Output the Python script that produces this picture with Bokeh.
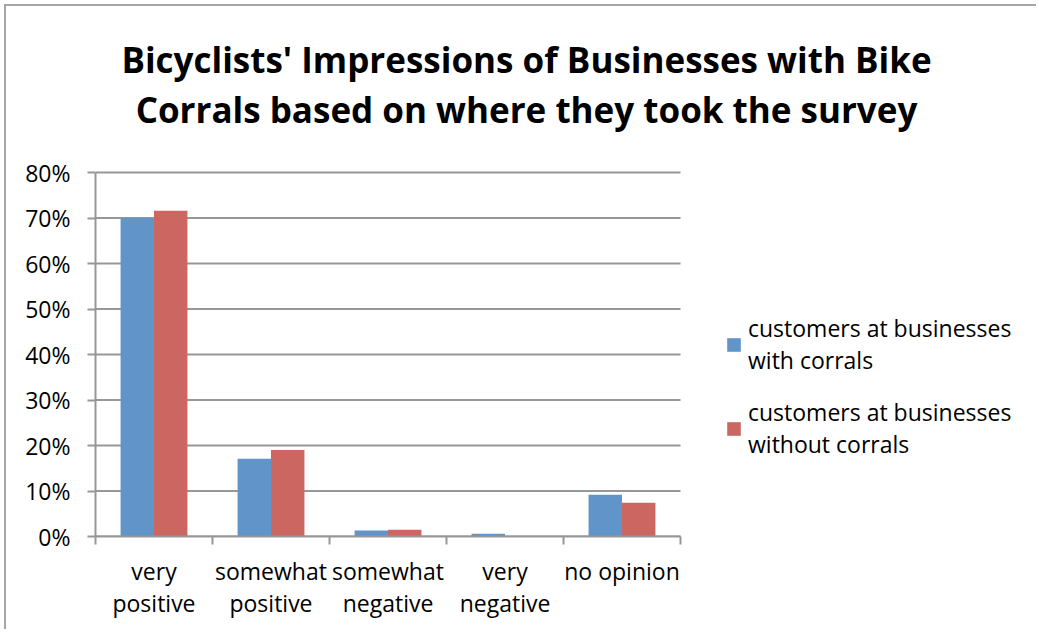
from bokeh.plotting import figure
from bokeh.models import (ColumnDataSource, FixedTicker, NumeralTickFormatter, Legend,
                          LegendItem, Label, Range1d)
from bokeh.transform import dodge
from bokeh.embed import file_html
from bokeh.resources import INLINE

# ---- data ----
categories = ["very\npositive", "somewhat\npositive", "somewhat\nnegative", "very\nnegative", "no opinion"]
with_corrals = [0.700, 0.171, 0.013, 0.006, 0.092]
without_corrals = [0.716, 0.190, 0.015, 0.0, 0.074]
series_names = ["customers at businesses\nwith corrals", "customers at businesses\nwithout corrals"]
series_colors = ["#6194C9", "#CB6660"]
y_ticks = [0.0, 0.1, 0.2, 0.3, 0.4, 0.5, 0.6, 0.7, 0.8]
title_lines = ["Bicyclists' Impressions of Businesses with Bike",
               "Corrals based on where they took the survey"]

FONT = "Open Sans"
GRAY = "#979797"

n = len(categories)
y_max = y_ticks[-1]
centers = [i + 0.5 for i in range(n)]
boundaries = [float(i) for i in range(n + 1)]
src = ColumnDataSource(dict(x=centers, a=with_corrals, b=without_corrals))
grid_src = ColumnDataSource(dict(y=y_ticks, x0=[0] * len(y_ticks), x1=[n] * len(y_ticks)))

# plot area of the bars: 585 px wide x 364 px tall; the frame is larger so that
# the title and the legend (drawn inside it) are not clipped
FW, FH = 943, 506
x_end = FW * n / 585.0
y_end = FH * y_max / 364.0

p = figure(width=1032, height=625, output_backend="svg", toolbar_location=None,
           x_range=Range1d(0, x_end), y_range=Range1d(0, y_end),
           min_border_left=89, min_border_right=0, min_border_top=24, min_border_bottom=95)
p.outline_line_color = None
p.background_fill_color = "white"
p.border_fill_color = "white"
p.styles = {"border-top": "2px solid #a6a6a6", "border-left": "2px solid #a6a6a6",
            "margin-left": "4px", "margin-top": "4px"}

# horizontal gridlines over the category span only
p.xgrid.grid_line_color = None
p.ygrid.grid_line_color = None
p.segment(x0="x0", x1="x1", y0="y", y1="y", source=grid_src, line_color=GRAY, line_width=2)

bw = 0.2857
r1 = p.vbar(x=dodge("x", -bw / 2), top="a", width=bw, source=src,
            fill_color=series_colors[0], line_color=None)
r2 = p.vbar(x=dodge("x", bw / 2), top="b", width=bw, source=src,
            fill_color=series_colors[1], line_color=None)

# y axis
p.yaxis.bounds = (0, y_max)
p.yaxis.ticker = FixedTicker(ticks=y_ticks)
p.yaxis.formatter = NumeralTickFormatter(format="0%")
p.yaxis.axis_line_color = GRAY
p.yaxis.axis_line_width = 2
p.yaxis.major_tick_line_color = GRAY
p.yaxis.major_tick_line_width = 2
p.yaxis.major_tick_out = 8
p.yaxis.major_tick_in = 0
p.yaxis.minor_tick_line_color = None
p.yaxis.major_label_text_font = FONT
p.yaxis.major_label_text_font_size = "23px"
p.yaxis.major_label_text_color = "black"
p.yaxis.major_label_standoff = 17

# x axis: labels at centers, ticks at boundaries
p.xaxis.bounds = (0, n)
p.xaxis.ticker = FixedTicker(ticks=centers, minor_ticks=boundaries)
p.xaxis.major_label_overrides = {c: lab for c, lab in zip(centers, categories)}
p.xaxis.axis_line_color = GRAY
p.xaxis.axis_line_width = 2
p.xaxis.major_tick_line_color = None
p.xaxis.minor_tick_line_color = GRAY
p.xaxis.minor_tick_line_width = 2
p.xaxis.minor_tick_out = 8
p.xaxis.minor_tick_in = 0
p.xaxis.major_label_text_font = FONT
p.xaxis.major_label_text_font_size = "23px"
p.xaxis.major_label_text_line_height = 1.0
p.xaxis.major_label_text_color = "black"
p.xaxis.major_label_standoff = 10

# title (two lines), in screen units relative to the frame
for txt, yy in zip(title_lines, [477, 427]):
    p.add_layout(Label(x=431, y=yy, x_units="screen", y_units="screen", text=txt,
                       text_align="center", text_baseline="alphabetic",
                       text_font=FONT, text_font_style="bold", text_font_size="35px",
                       text_color="black"))

legend = Legend(items=[LegendItem(label=series_names[0], renderers=[r1]),
                       LegendItem(label=series_names[1], renderers=[r2])],
                location=(630, 76), glyph_width=17, glyph_height=17,
                label_text_font=FONT, label_text_font_size="23px", label_text_color="black",
                label_text_line_height=1.0,
                label_standoff=6, spacing=20, padding=0, margin=0,
                border_line_color=None, background_fill_alpha=0)
p.add_layout(legend, "center")

open("out.html", "w").write(file_html(p, INLINE))
